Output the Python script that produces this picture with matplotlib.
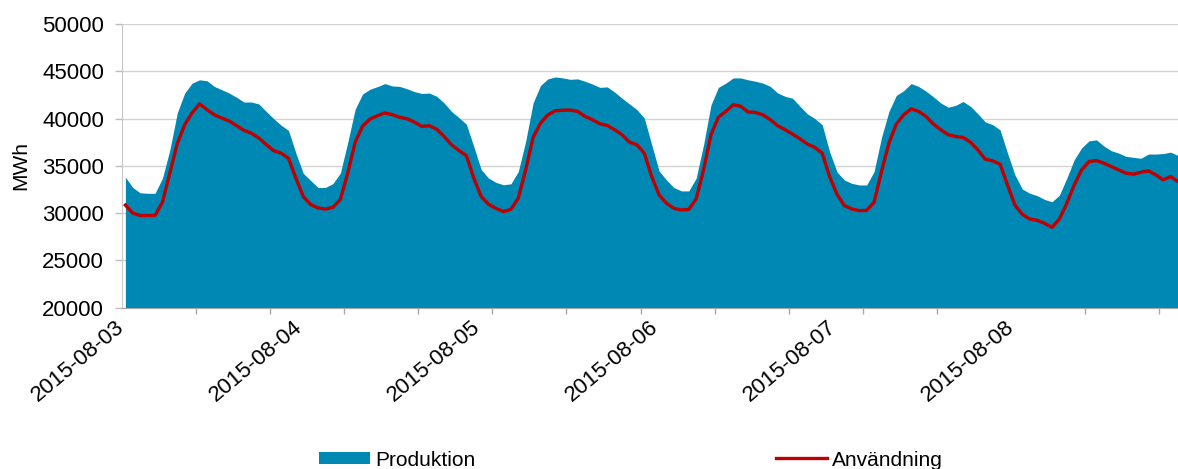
import numpy as np
import matplotlib
matplotlib.use("Agg")
import matplotlib.pyplot as plt
from matplotlib.patches import Patch
from matplotlib.lines import Line2D

plt.rcParams['font.family'] = ['Liberation Sans', 'DejaVu Sans']

# Hourly values from 2015-08-03 00:00 onwards (MWh)
produktion = [
    33800, 32700, 32150, 32100, 32100, 33700, 36700, 40600, 42700, 43750,
    44100, 44000, 43400, 43050, 42700, 42250, 41750, 41750, 41550, 40750,
    40000, 39300, 38750, 36350, 34200, 33450, 32700, 32720, 33130, 34240,
    37500, 41000, 42600, 43100, 43380, 43700, 43450, 43400, 43150, 42850,
    42650, 42700, 42350, 41650, 40750, 40100, 39400, 37050, 34600, 33700,
    33250, 33000, 33100, 34400, 37600, 41650, 43500, 44200, 44400, 44300,
    44150, 44200, 43950, 43650, 43300, 43350, 42800, 42150, 41550, 40950,
    40050, 37250, 34450, 33500, 32700, 32350, 32350, 33700, 37250, 41450,
    43300, 43750, 44300, 44300, 44100, 43950, 43750, 43400, 42700, 42350,
    42150, 41300, 40500, 40000, 39350, 36500, 34350, 33500, 33150, 32980,
    32980, 34400, 38000, 40750, 42450, 42950, 43700, 43400, 42900, 42300,
    41650, 41200, 41400, 41800, 41300, 40500, 39650, 39350, 38800, 36350,
    34050, 32550, 32100, 31850, 31450, 31200, 31900, 33700, 35650, 36900,
    37650, 37750, 37100, 36600, 36350, 36000, 35900, 35800, 36250, 36250,
    36300, 36450, 36100,
]
anvandning = [
    30850, 30000, 29750, 29750, 29750, 31150, 34250, 37350, 39350, 40600,
    41550, 40950, 40400, 40050, 39750, 39250, 38750, 38450, 37950, 37250,
    36600, 36350, 35800, 33700, 31750, 30900, 30550, 30430, 30620, 31450,
    34250, 37500, 39200, 39950, 40300, 40600, 40420, 40130, 39980, 39620,
    39170, 39240, 38880, 38100, 37230, 36620, 36080, 33700, 31750, 30930,
    30500, 30170, 30400, 31570, 34580, 38000, 39520, 40400, 40830, 40880,
    40900, 40760, 40230, 39880, 39450, 39270, 38820, 38290, 37510, 37230,
    36340, 33870, 31920, 31040, 30510, 30330, 30400, 31500, 34580, 38300,
    40150, 40760, 41470, 41300, 40700, 40650, 40400, 39880, 39240, 38820,
    38360, 37860, 37300, 36950, 36340, 33870, 31990, 30790, 30440, 30260,
    30300, 31140, 34400, 37400, 39420, 40400, 41040, 40760, 40230, 39420,
    38820, 38290, 38110, 38000, 37510, 36690, 35700, 35530, 35170, 32980,
    30860, 29870, 29380, 29240, 28920, 28500, 29380, 31040, 32980, 34580,
    35460, 35560, 35280, 34930, 34580, 34220, 34120, 34330, 34470, 34050,
    33520, 33870, 33340,
]
datum = ['2015-08-03', '2015-08-04', '2015-08-05',
         '2015-08-06', '2015-08-07', '2015-08-08']

timmar = np.arange(len(produktion))

fig = plt.figure(figsize=(11.78, 4.69), dpi=100)
ax = fig.add_axes([0.1033, 0.3439, 0.8967, 0.6049])

ax.fill_between(timmar, 20000, produktion, color='#0088b4', linewidth=0, zorder=2)
ax.plot(timmar, anvandning, color='#c00000', linewidth=2.4, zorder=3)

ax.set_xlim(-0.5, 142.0)
ax.set_ylim(20000, 50000)
ax.set_yticks(np.arange(20000, 50001, 5000))
ax.grid(axis='y', color='#d2d2d2', linewidth=1.0, zorder=0)
ax.set_axisbelow(True)

# date labels at day boundaries, small ticks every tenth hour
ax.set_xticks([-0.5 + 24 * i for i in range(len(datum))])
ax.set_xticklabels(datum, rotation=40, ha='right', va='center',
                   rotation_mode='anchor', fontsize=16)
ax.set_xticks(np.arange(-0.5, 142, 10), minor=True)
ax.tick_params(axis='x', which='major', length=0, pad=12)
ax.tick_params(axis='x', which='minor', length=4.5, width=1, color='#a6a6a6')
ax.tick_params(axis='y', length=4.8, width=1, color='#bdbdbd',
               labelsize=16, pad=8)

for side in ['top', 'right']:
    ax.spines[side].set_visible(False)
ax.spines['left'].set_color('#c8c8c8')
ax.spines['bottom'].set_color('#a6a6a6')

ax.set_ylabel('MWh', fontsize=15)
ax.yaxis.set_label_coords(-0.087, 0.5)

leg_font = {'family': ['Liberation Sans'], 'size': 15}
fig.legend(handles=[Patch(facecolor='#0088b4', edgecolor='none', label='Produktion')],
           loc='center left', bbox_to_anchor=(319 / 1178, 1 - 460 / 469),
           frameon=False, borderpad=0, borderaxespad=0, handlelength=2.45,
           handleheight=0.5, handletextpad=0.25, prop=leg_font)
fig.legend(handles=[Line2D([], [], color='#c00000', linewidth=2.4, label='Användning')],
           loc='center left', bbox_to_anchor=(776 / 1178, 1 - 460 / 469),
           frameon=False, borderpad=0, borderaxespad=0, handlelength=2.45,
           handletextpad=0.25, prop=leg_font)

fig.savefig('out.png', dpi=100)
